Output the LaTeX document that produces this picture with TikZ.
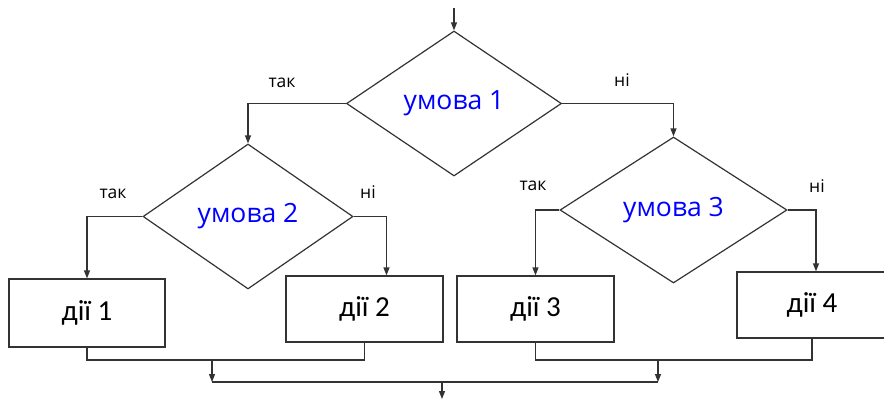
\documentclass[tikz,border=0pt]{standalone}
\usepackage{fontspec}
\setmainfont{Carlito}
\newfontfamily\condfont{Open Sans}
\usetikzlibrary{arrows.meta,shapes.geometric}

\tikzset{
  cond/.style={draw, diamond, inner sep=0pt, text=blue, font=\condfont\fontsize{26.5}{29}\selectfont},
  act/.style={draw, rectangle, inner sep=0pt, font=\fontsize{29}{32}\selectfont},
  lbl/.style={font=\condfont\fontsize{17.5}{20}\selectfont},
}

\begin{document}
\begin{tikzpicture}[x=1pt, y=-1pt, >={Triangle[length=8pt,width=6pt]}, line width=1.2pt, draw=black!80]
  \useasboundingbox (0,0) rectangle (884,399);

  % Conditions
  \node[cond, minimum width=215pt, minimum height=145pt] (d1) at (454,103.5) {умова 1};
  \node[cond, minimum width=210pt, minimum height=145pt] (d2) at (248,216.5) {умова 2};
  \node[cond, minimum width=227pt, minimum height=146pt] (d3) at (673.5,210) {умова 3};

  % Actions
  \node[act, minimum width=156pt, minimum height=68pt] (b1) at (87,313) {дії 1};
  \node[act, minimum width=157pt, minimum height=66pt] (b2) at (364.5,309) {дії 2};
  \node[act, minimum width=157pt, minimum height=66pt] (b3) at (535.5,309) {дії 3};
  \node[act, minimum width=150pt, minimum height=66pt] (b4) at (812,305) {дії 4};

  % Helper points
  \coordinate (in) at (454,8);
  \coordinate (m1) at (212,360);
  \coordinate (m2) at (212,382);
  \coordinate (m3) at (658,382);
  \coordinate (m4) at (658,360);
  \coordinate (m5) at (442,382);
  \coordinate (out) at (442,399);

  % Branches
  \draw[->] (in) -- (d1.north);
  \draw[->] (d1.west) -| (d2.north);
  \draw[->] (d1.east) -| (d3.north);
  \draw[->] (d2.west) -| (b1.north);
  \draw[->] (d2.east) -| ([xshift=22pt]b2.north);
  \draw[->] (d3.west) -| (b3.north);
  \draw[->] (d3.east) -| ([xshift=4pt]b4.north);

  % Merging
  \draw (b1.south) |- (m1) -| (b2.south);
  \draw (b3.south) |- (m4) -| (b4.south);
  \draw[->] (m1) -- (m2);
  \draw[->] (m4) -- (m3);
  \draw (m2) -- (m3);
  \draw[->] (m5) -- (out);

  % Branch labels
  \node[lbl] (y1) at (282,83) {так};
  \node[lbl] (n1) at (622,80) {ні};
  \node[lbl] (y2) at (113,194) {так};
  \node[lbl] (n2) at (368,192) {ні};
  \node[lbl] (y3) at (533,186) {так};
  \node[lbl] (n3) at (817,186) {ні};
\end{tikzpicture}
\end{document}
